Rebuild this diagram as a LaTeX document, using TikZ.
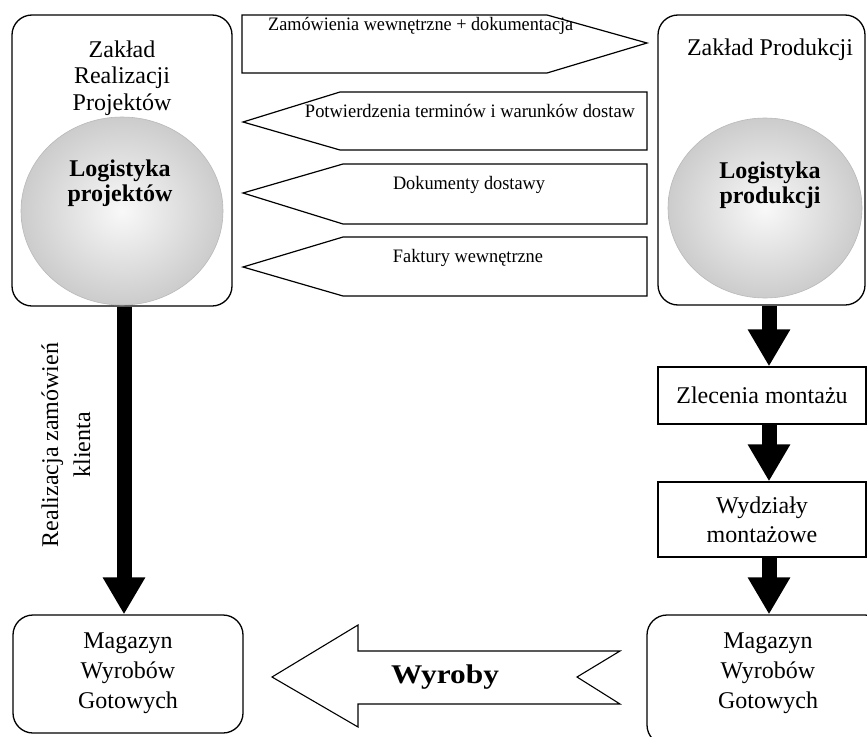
\documentclass[tikz,border=0pt]{standalone}
\usepackage{fontspec}
\setmainfont{Liberation Serif}
\usetikzlibrary{arrows.meta,shapes.geometric}
% scale a text horizontally to a given width, keeping its height
\newcommand{\fitw}[2]{\resizebox{#1}{\height}{#2}}
\begin{document}
\begin{tikzpicture}[x=1pt,y=-1pt,
  box/.style={draw,line width=1.3pt,rounded corners=20pt,inner sep=0pt},
  plainbox/.style={draw,line width=1.3pt,inner sep=0pt,
    font=\fontsize{24}{29}\selectfont,align=center},
  banner/.style={draw,line width=1.2pt,line join=miter,fill=white},
  txt/.style={font=\fontsize{24}{26.5}\selectfont,align=center,inner sep=0pt},
  boldtxt/.style={font=\fontsize{24}{25}\selectfont\bfseries,align=center,inner sep=0pt},
  smalltxt/.style={font=\fontsize{19}{21}\selectfont,inner sep=0pt},
  globe/.style={ellipse,inner sep=0pt,draw=gray!55,line width=0.6pt,
    shading=radial,inner color=gray!5,outer color=gray!40},
  blk/.style={line width=15pt,-{Triangle[width=40pt,length=37pt]}}]
\useasboundingbox (0,0) rectangle (867,736);
\fill[white] (0,0) rectangle (867,736);

% plant boxes
\node[box,minimum width=220pt,minimum height=291pt] (zrp) at (122,160.5) {};
\node[box,minimum width=207pt,minimum height=290pt] (zp) at (761.5,160) {};

% logistics globes
\node[globe,minimum width=202pt,minimum height=188pt] (glp) at (122,211) {};
\node[globe,minimum width=194pt,minimum height=180pt] (glr) at (765,208) {};

\node[txt] (zrpT) at (122,78) {Zakład\\Realizacji\\Projektów};
\node[txt,anchor=base] (zpT) at (770,55) {Zakład Produkcji};
\node[boldtxt] (glpT) at (120,183) {Logistyka\\projektów};
\node[boldtxt] (glrT) at (770,185) {Logistyka\\produkcji};

% document flows between the plants
\draw[banner] (242,15) -- (547,15) -- (647,43) -- (547,73) -- (242,73) -- cycle;
\draw[banner] (647,92) -- (340,92) -- (243,122) -- (340,150) -- (647,150) -- cycle;
\draw[banner] (647,164) -- (343,164) -- (243,193) -- (343,224) -- (647,224) -- cycle;
\draw[banner] (647,237) -- (343,237) -- (243,267) -- (343,296) -- (647,296) -- cycle;
\node[smalltxt,anchor=west] (b1) at (268,26) {\fitw{305pt}{Zamówienia wewnętrzne + dokumentacja}};
\node[smalltxt] (b2) at (470,111) {\fitw{330pt}{Potwierdzenia terminów i warunków dostaw}};
\node[smalltxt] (b3) at (469,185) {\fitw{152pt}{Dokumenty dostawy}};
\node[smalltxt] (b4) at (468,258) {\fitw{150pt}{Faktury wewnętrzne}};

% production chain
\node[plainbox,minimum width=208pt,minimum height=57pt] (zl) at (762,395.5) {Zlecenia montażu};
\node[plainbox,minimum width=208pt,minimum height=75pt] (wm) at (762,519.5) {Wydziały\\montażowe};

% finished goods stores
\node[box,minimum width=230pt,minimum height=118pt] (mwL) at (128,674) {};
\node[box,minimum width=238pt,minimum height=130pt] (mwR) at (766,680) {};
\node[txt,font=\fontsize{24}{30}\selectfont] (mwLT) at (128,673) {Magazyn\\Wyrobów\\Gotowych};
\node[txt,font=\fontsize{24}{30}\selectfont] (mwRT) at (768,673) {Magazyn\\Wyrobów\\Gotowych};

% flow axes
\coordinate (laxis) at (124,0);
\coordinate (raxis) at (769,0);
\draw[blk] (zrp.south -| laxis) -- (mwL.north -| laxis);
\draw[blk] (zp.south -| raxis) -- (zl.north -| raxis);
\draw[blk] (zl.south -| raxis) -- (wm.north -| raxis);
\draw[blk] (wm.south -| raxis) -- (mwR.north -| raxis);

\node[txt,font=\fontsize{24}{32}\selectfont,rotate=90] (rzk) at (66,445) {Realizacja zamówień\\klienta};

% goods transfer arrow
\draw[banner,line width=1.1pt] (272,677) -- (358,625) -- (358,651) -- (620,651) -- (577,677)
  -- (620,704) -- (358,704) -- (358,727) -- cycle;
\node[font=\fontsize{27}{29}\selectfont\bfseries,inner sep=0pt] (wyr) at (445,677) {\fitw{108pt}{Wyroby}};
\end{tikzpicture}
\end{document}
